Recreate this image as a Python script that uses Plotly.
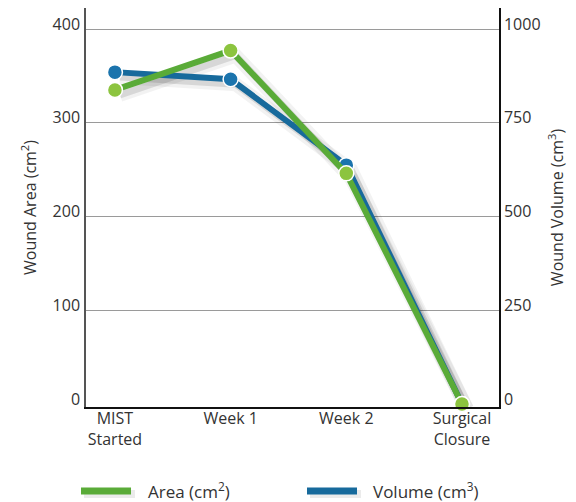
import plotly.graph_objects as go

categories = ["MIST<br>Started", "Week 1", "Week 2", "Surgical<br>Closure"]
area_cm2 = [335, 377, 246, 0]
volume_cm3 = [885, 866, 637, 0]
area_ticks = [0, 100, 200, 300, 400]
volume_ticks = [0, 250, 500, 750, 1000]
grid_ticks = [100, 200, 300, 400]

GREEN_LINE = "#5aab38"
GREEN_MARK = "#8cc43f"
BLUE_LINE = "#176a9c"
BLUE_MARK = "#1b74ad"
TEXT = "#333333"
FONT = "Open Sans"

XR = [-0.25, 3.32]
YR = [-3.2, 422.4]
VSCALE = 2.5
VR = [v * VSCALE for v in YR]

# shadow offsets (px -> data units)
PX_X = (XR[1] - XR[0]) / 413.0
PX_Y = (YR[1] - YR[0]) / 399.0
DX = 5 * PX_X
DY = 5 * PX_Y

fig = go.Figure()

# shadow traces on base subplot (shifted axes)
for vals, ya in [(volume_cm3, "y2"), (area_cm2, "y")]:
    fig.add_trace(go.Scatter(x=categories, y=vals, xaxis="x", yaxis=ya, mode="lines",
                             line=dict(color="rgba(0,0,0,0.05)", width=14),
                             hoverinfo="skip", showlegend=False, cliponaxis=False))
    fig.add_trace(go.Scatter(x=categories, y=vals, xaxis="x", yaxis=ya, mode="lines",
                             line=dict(color="rgba(0,0,0,0.11)", width=7),
                             hoverinfo="skip", showlegend=False, cliponaxis=False))

# grid helper (empty)
fig.add_trace(go.Scatter(x=[], y=[], xaxis="x2", yaxis="y5", showlegend=False, hoverinfo="skip"))

# real series: volume first (below), area on top
fig.add_trace(go.Scatter(x=categories, y=volume_cm3, xaxis="x2", yaxis="y3", mode="lines+markers",
                         name="Volume (cm³)",
                         line=dict(color=BLUE_LINE, width=6),
                         marker=dict(size=15, color=BLUE_MARK, line=dict(color="white", width=1.5)),
                         showlegend=False, cliponaxis=False))
fig.add_trace(go.Scatter(x=categories, y=area_cm2, xaxis="x2", yaxis="y4", mode="lines+markers",
                         name="Area (cm²)",
                         line=dict(color=GREEN_LINE, width=6),
                         marker=dict(size=15, color=GREEN_MARK, line=dict(color="white", width=1.5)),
                         showlegend=False, cliponaxis=False))

tickfont = dict(family=FONT, size=16, color=TEXT)

fig.update_layout(
    width=576, height=502,
    margin=dict(l=86, r=77, t=8, b=95),
    paper_bgcolor="white", plot_bgcolor="white",
    font=dict(family=FONT, size=16, color=TEXT),
    showlegend=False,
    xaxis=dict(type="category", range=[XR[0] - DX, XR[1] - DX], visible=False),
    yaxis=dict(range=[YR[0] + DY, YR[1] + DY], visible=False),
    yaxis2=dict(range=[VR[0] + DY * VSCALE, VR[1] + DY * VSCALE], visible=False,
                overlaying="y"),
    xaxis2=dict(type="category", range=XR, overlaying="x", side="bottom", anchor="y4",
                showgrid=False, showline=True, linecolor="#111111", linewidth=1.5,
                ticks="", tickfont=tickfont, zeroline=False, ticklabelstandoff=-4),
    yaxis3=dict(range=VR, overlaying="y", side="right", anchor="x2",
                tickvals=volume_ticks, showgrid=False, zeroline=False,
                showline=True, linecolor="#111111", linewidth=1.5, ticks="",
                tickfont=tickfont, ticklabelshift=-5, ticklabelstandoff=0,
                title=dict(text="Wound Volume (cm<sup>3</sup>)", font=tickfont, standoff=12)),
    yaxis4=dict(range=YR, overlaying="y", side="left", anchor="x2",
                tickvals=area_ticks, showgrid=False, zeroline=False,
                showline=True, linecolor="#555555", linewidth=1.5, ticks="",
                tickfont=tickfont, ticklabelshift=-5, ticklabelstandoff=1,
                title=dict(text="Wound Area (cm<sup>2</sup>)", font=tickfont, standoff=12)),
    yaxis5=dict(range=YR, overlaying="y", side="left", anchor="x2",
                tickvals=grid_ticks, showgrid=True, gridcolor="#9a9a9a", gridwidth=1,
                showticklabels=False, showline=False, zeroline=False, ticks=""),
)

# manual legend
def px_x(p):
    return (p - 86) / 413.0

def px_y(p):
    return (407 - p) / 399.0

legend_items = [("Area (cm<sup>2</sup>)", GREEN_LINE, 81, 131, 146),
                ("Volume (cm<sup>3</sup>)", BLUE_LINE, 307, 357, 371)]
for label, color, x0, x1, tx in legend_items:
    fig.add_shape(type="line", xref="paper", yref="paper",
                  x0=px_x(x0 + 3), x1=px_x(x1 + 4), y0=px_y(494), y1=px_y(494),
                  line=dict(color="rgba(0,0,0,0.08)", width=8))
    fig.add_shape(type="line", xref="paper", yref="paper",
                  x0=px_x(x0), x1=px_x(x1), y0=px_y(491), y1=px_y(491),
                  line=dict(color=color, width=7))
    fig.add_annotation(xref="paper", yref="paper", x=px_x(tx), y=px_y(490),
                       text=label, showarrow=False, xanchor="left", yanchor="middle",
                       font=dict(family=FONT, size=17, color=TEXT))

fig.write_html("out.html", config={"displayModeBar": False},
               post_script="document.body.style.margin='0';")
